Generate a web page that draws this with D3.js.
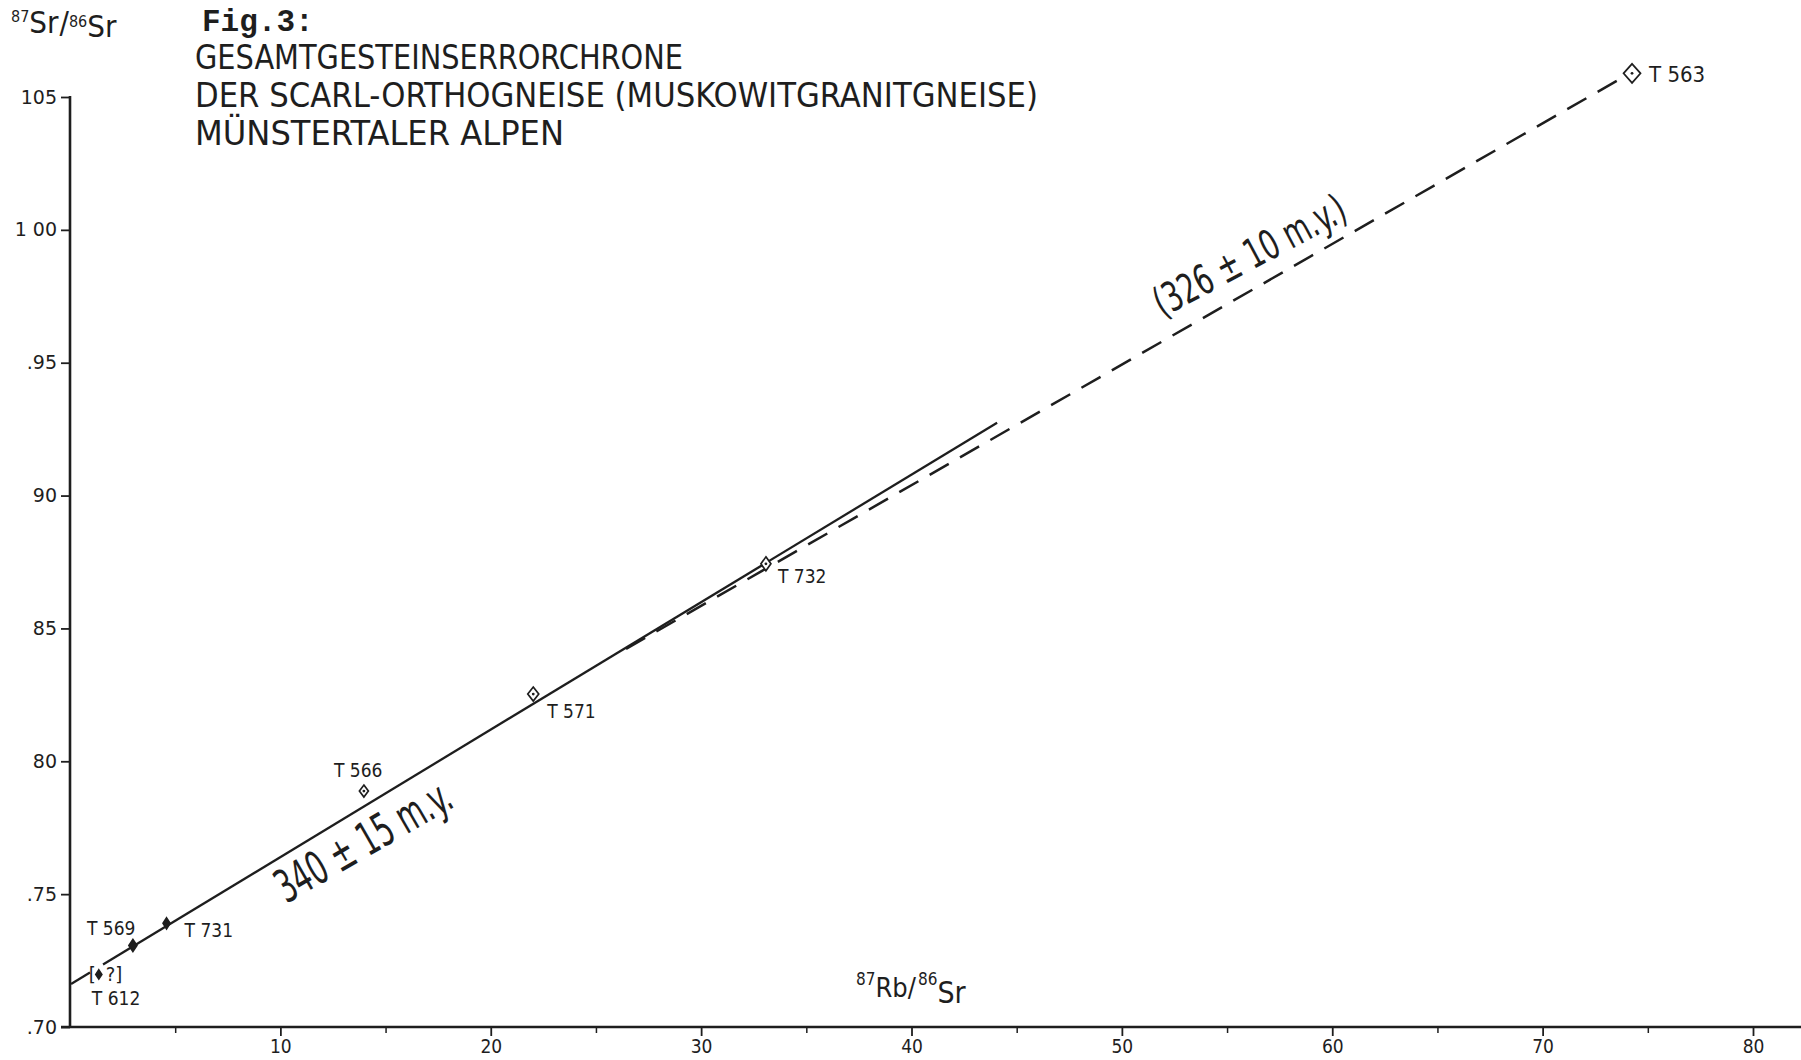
<!DOCTYPE html>
<html>
<head>
<meta charset="utf-8">
<script src="https://cdn.jsdelivr.net/npm/d3@7"></script>
<style>
  html, body { margin: 0; padding: 0; background: #fff; }
  svg { display: block; }
  text { fill: #1e1e1e; }
</style>
</head>
<body>
<script>
// ---------------- DATA ----------------
const sampleNames = ["T 612", "T 569", "T 731", "T 566", "T 571", "T 732", "T 563"];
const rbSr = [1.37, 2.99, 4.59, 13.97, 22.02, 33.08, 74.25];          // 87Rb/86Sr
const srSr = [0.7198, 0.7307, 0.7390, 0.7888, 0.8253, 0.8743, 1.0589]; // 87Sr/86Sr

// solid errorchron (340 ± 15 m.y.), drawn in two pieces (gap at bracket)
const solidLineX = [[0.05, 0.95], [1.57, 44.07]];
const solidLineY = [[0.7162, 0.7205], [0.7235, 0.9274]];
// dashed errorchron (326 ± 10 m.y.)
const dashedLineX = [26.43, 73.77];
const dashedLineY = [0.8423, 1.0572];

const xTicks = [10, 20, 30, 40, 50, 60, 70, 80];
const xTickLabels = ["10", "20", "30", "40", "50", "60", "70", "80"];
const xMinorTicks = [5, 15, 25, 35, 45, 55, 65, 75];
const yTicks = [0.70, 0.75, 0.80, 0.85, 0.90, 0.95, 1.00, 1.05];
const yTickLabels = [".70", ".75", "80", "85", "90", ".95", "1 00", "105"];

const titleLines = [
  "GESAMTGESTEINSERRORCHRONE",
  "DER SCARL-ORTHOGNEISE (MUSKOWITGRANITGNEISE)",
  "MÜNSTERTALER ALPEN"
];
const figLabel = "Fig.3:";
const age1Label = "340 ± 15 m.y.";
const age2Label = "(326 ± 10 m.y.)";

// ---------------- DRAW ----------------
const W = 1801, H = 1060;
const INK = "#1e1e1e";
const COND = "'DejaVu Sans Condensed', 'DejaVu Sans', sans-serif";
const SANS = "'DejaVu Sans', sans-serif";

const svg = d3.select("body").append("svg").attr("width", W).attr("height", H);
svg.append("rect").attr("width", W).attr("height", H).attr("fill", "#fff");

const x = d3.scaleLinear().domain([0, 80]).range([70, 1753]);
const y = d3.scaleLinear().domain([0.70, 1.05]).range([1027, 97]);

// x axis
const gx = svg.append("g").attr("transform", `translate(0,${y(0.70)})`)
  .call(d3.axisBottom(x).tickValues(xTicks).tickSize(9).tickSizeOuter(0).tickPadding(4)
    .tickFormat((d, i) => xTickLabels[i]));
gx.select(".domain").remove();
gx.selectAll(".tick line").attr("stroke", INK).attr("stroke-width", 1.8);
gx.selectAll(".tick text").attr("font-family", COND).attr("font-size", 19).attr("fill", INK);

const gxm = svg.append("g").attr("transform", `translate(0,${y(0.70)})`)
  .call(d3.axisBottom(x).tickValues(xMinorTicks).tickSize(6).tickSizeOuter(0).tickFormat(""));
gxm.select(".domain").remove();
gxm.selectAll(".tick line").attr("stroke", INK).attr("stroke-width", 1.5);

svg.append("line")
  .attr("x1", x(0) - 9).attr("x2", W)
  .attr("y1", y(0.70)).attr("y2", y(0.70))
  .attr("stroke", INK).attr("stroke-width", 2.6);

// y axis
const gy = svg.append("g").attr("transform", `translate(${x(0)},0)`)
  .call(d3.axisLeft(y).tickValues(yTicks).tickSize(9).tickSizeOuter(0).tickPadding(4)
    .tickFormat((d, i) => yTickLabels[i]));
gy.select(".domain").remove();
gy.selectAll(".tick line").attr("stroke", INK).attr("stroke-width", 1.8);
gy.selectAll(".tick text").attr("font-family", SANS).attr("font-size", 19)
  .attr("fill", INK).attr("xml:space", "preserve").style("white-space", "pre");

svg.append("line")
  .attr("x1", x(0)).attr("x2", x(0))
  .attr("y1", y(1.05) - 1).attr("y2", y(0.70))
  .attr("stroke", INK).attr("stroke-width", 2.6);

// lines
const lineGen = d3.line().x(d => x(d[0])).y(d => y(d[1]));
solidLineX.forEach((xs, i) => {
  const pts = xs.map((xv, j) => [xv, solidLineY[i][j]]);
  svg.append("path").attr("d", lineGen(pts))
    .attr("fill", "none").attr("stroke", INK).attr("stroke-width", 2.3);
});
svg.append("path")
  .attr("d", lineGen(dashedLineX.map((xv, j) => [xv, dashedLineY[j]])))
  .attr("fill", "none").attr("stroke", INK).attr("stroke-width", 2.5)
  .attr("stroke-dasharray", "22 13");

// markers (sizes and label offsets are drawing styles, kept in code)
const markerStyle = {
  "T 612": { w: 3, h: 4.5, fill: true },
  "T 569": { w: 4, h: 6, fill: true },
  "T 731": { w: 3.5, h: 5.5, fill: true },
  "T 566": { w: 4.5, h: 6, fill: false },
  "T 571": { w: 5.5, h: 7, fill: false },
  "T 732": { w: 5, h: 7, fill: false },
  "T 563": { w: 8.5, h: 9.5, fill: false }
};
const labelOffset = {
  "T 612": [-7, 31, 19],
  "T 569": [-46, -10, 19],
  "T 731": [18, 14, 19],
  "T 566": [-30, -14, 19],
  "T 571": [14, 24, 19],
  "T 732": [12, 19, 19],
  "T 563": [17, 9, 22]
};

sampleNames.forEach((name, i) => {
  const cx = x(rbSr[i]), cy = y(srSr[i]);
  const s = markerStyle[name];
  const g = svg.append("g").attr("transform", `translate(${cx},${cy})`);
  g.append("path")
    .attr("d", `M0,${-s.h}L${s.w},0L0,${s.h}L${-s.w},0Z`)
    .attr("fill", s.fill ? INK : "#fff")
    .attr("stroke", INK).attr("stroke-width", 1.7);
  if (!s.fill) g.append("circle").attr("r", 1.4).attr("fill", INK);
  const o = labelOffset[name];
  svg.append("text").attr("x", cx + o[0]).attr("y", cy + o[1])
    .attr("font-family", COND).attr("font-size", o[2]).text(name);
});

// bracket with question mark around T 612
{
  const cx = x(rbSr[0]), cy = y(srSr[0]);
  svg.append("text").attr("x", cx - 10).attr("y", cy + 7)
    .attr("font-family", COND).attr("font-size", 20).text("[");
  svg.append("text").attr("x", cx + 7).attr("y", cy + 7)
    .attr("font-family", COND).attr("font-size", 20).text("?]");
}

// age labels along the lines
svg.append("text")
  .attr("transform", "translate(371,855) rotate(-30)")
  .attr("text-anchor", "middle")
  .attr("font-family", COND).attr("font-size", 46)
  .attr("textLength", 196).attr("lengthAdjust", "spacingAndGlyphs")
  .text(age1Label);
svg.append("text")
  .attr("transform", "translate(1256,268) rotate(-28)")
  .attr("text-anchor", "middle")
  .attr("font-family", COND).attr("font-size", 41)
  .attr("textLength", 212).attr("lengthAdjust", "spacingAndGlyphs")
  .text(age2Label);

// title
svg.append("text").attr("x", 202).attr("y", 31)
  .attr("font-family", "'Liberation Mono', 'DejaVu Sans Mono', monospace")
  .attr("font-weight", "bold").attr("font-size", 31).text(figLabel);

const titleBase = [69, 107, 145];
const titleWidth = [488, 843, 369];
titleLines.forEach((t, i) => {
  svg.append("text").attr("x", 195).attr("y", titleBase[i])
    .attr("font-family", COND).attr("font-size", 33)
    .attr("textLength", titleWidth[i]).attr("lengthAdjust", "spacingAndGlyphs")
    .text(t);
});

// axis titles
const yt = svg.append("text").attr("x", 11).attr("y", 33).attr("font-family", COND);
yt.append("tspan").attr("font-size", 16).attr("dy", -11).text("87");
yt.append("tspan").attr("font-size", 31).attr("dy", 11).text("Sr");
yt.append("tspan").attr("font-size", 31).attr("dx", 1).text("/");
yt.append("tspan").attr("font-size", 16).attr("dy", -6).text("86");
yt.append("tspan").attr("font-size", 31).attr("dy", 10).text("Sr");

const xt = svg.append("text").attr("x", 856).attr("y", 997).attr("font-family", COND);
xt.append("tspan").attr("font-size", 17).attr("dy", -12).text("87");
xt.append("tspan").attr("font-size", 27).attr("dy", 12).text("Rb/");
xt.append("tspan").attr("font-size", 17).attr("dy", -12).attr("dx", 2).text("86");
xt.append("tspan").attr("font-size", 30).attr("dy", 18).text("Sr");
</script>
</body>
</html>
